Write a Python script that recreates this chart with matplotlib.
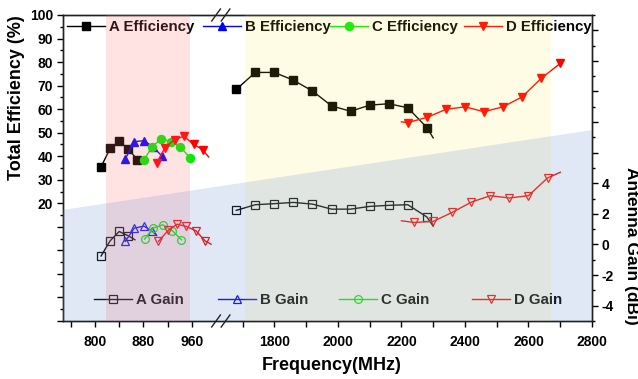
import numpy as np
import matplotlib
matplotlib.use('Agg')
import matplotlib.pyplot as plt
import matplotlib.patches as mpatches
from matplotlib.lines import Line2D
from matplotlib.legend import Legend
from matplotlib.ticker import FixedLocator, FuncFormatter, MultipleLocator

plt.rcParams['font.family'] = ['Liberation Sans', 'DejaVu Sans']
plt.rcParams['font.weight'] = 'bold'

# ---------------- data ----------------
# Efficiency (%)
a_eff_lo_f = [810, 825, 840, 855, 870]
a_eff_lo = [35.5, 43.3, 46.4, 43.0, 38.6]
a_eff_hi_f = [1680, 1740, 1800, 1860, 1920, 1980, 2040, 2100, 2160, 2220, 2280, 2300]
a_eff_hi = [68.4, 75.6, 75.6, 72.3, 67.7, 61.4, 59.1, 61.7, 62.3, 60.6, 52.2, 47.8]
b_eff_f = [850, 865, 881, 896, 911]
b_eff = [38.8, 46.2, 46.6, 44.0, 40.0]
c_eff_f = [881, 894, 910, 926, 941, 957]
c_eff = [38.3, 44.0, 47.5, 46.1, 44.0, 39.4]
d_eff_lo_f = [902, 916, 932, 947, 963, 978, 988]
d_eff_lo = [37.1, 43.7, 47.1, 48.5, 45.1, 42.8, 39.7]
d_eff_hi_f = [2200, 2220, 2280, 2340, 2400, 2460, 2520, 2580, 2640, 2700]
d_eff_hi = [54.6, 54.3, 56.5, 59.9, 61.0, 58.9, 61.0, 65.2, 73.1, 79.4]

# Antenna gain (dBi)
a_gain_lo_f = [810, 825, 840, 855, 866]
a_gain_lo = [-0.75, 0.24, 0.85, 0.57, 0.31]
a_gain_hi_f = [1680, 1740, 1800, 1860, 1920, 1980, 2040, 2100, 2160, 2220, 2280, 2300]
a_gain_hi = [2.23, 2.60, 2.67, 2.75, 2.64, 2.31, 2.31, 2.49, 2.56, 2.60, 1.80, 1.20]
b_gain_f = [850, 865, 881, 895, 902]
b_gain = [0.20, 1.07, 1.20, 0.85, 0.60]
c_gain_f = [882, 896, 912, 928, 943]
c_gain = [0.35, 1.07, 1.29, 0.90, 0.31]
d_gain_lo_f = [905, 921, 936, 951, 967, 982, 992]
d_gain_lo = [0.20, 0.92, 1.33, 1.18, 0.90, 0.24, 0.02]
d_gain_hi_f = [2200, 2240, 2300, 2360, 2420, 2480, 2540, 2600, 2660, 2700]
d_gain_hi = [1.55, 1.44, 1.51, 2.10, 2.77, 3.19, 3.04, 3.19, 4.35, 4.72]

x_major = [800, 880, 960, 1800, 2000, 2200, 2400, 2600, 2800]
x_minor = [760, 840, 920, 1700, 1900, 2100, 2300, 2500, 2700]

# ---------------- broken x scale ----------------
B1, B2 = 1008.0, 1631.0
K1, K2 = 0.604, 0.3175


def fwd(x):
    x = np.asarray(x, float)
    return np.where(x <= B1, (x - B1) * K1, np.where(x >= B2, (x - B2) * K2, 0.0))


def inv(u):
    u = np.asarray(u, float)
    return np.where(u < 0, B1 + u / K1, B2 + u / K2)


W, H = 638, 379
fig = plt.figure(figsize=(W / 100, H / 100), dpi=100)
L, R, T, Bt = 63, 592, 15, 321
ax = fig.add_axes([L / W, 1 - Bt / H, (R - L) / W, (Bt - T) / H])
ax.set_xscale('function', functions=(fwd, inv))
XMIN, XMAX = 747, 2800
ax.set_xlim(XMIN, XMAX)
ax.set_ylim(-30, 100)
ax2 = ax.twinx()
ax2.set_ylim(-5, 15)

# ---------------- efficiency ----------------
ms = 5.2
ax.plot(a_eff_lo_f, a_eff_lo, '-s', color='black', ms=ms, lw=1.0)
ax.plot(a_eff_hi_f, a_eff_hi, '-s', color='black', ms=ms, lw=1.0, markevery=list(range(11)))
ax.plot(b_eff_f, b_eff, '-^', color='#0000FF', ms=6.3, lw=1.0)
ax.plot(c_eff_f, c_eff, '-o', color='#00EE00', ms=5.8, lw=1.0)
ax.plot(d_eff_lo_f, d_eff_lo, '-v', color='#FF0000', ms=6.3, lw=1.0, markevery=list(range(6)))
ax.plot(d_eff_hi_f, d_eff_hi, '-v', color='#FF0000', ms=6.3, lw=1.0, markevery=list(range(1, 10)))

# ---------------- gain ----------------
gkw = dict(mfc='none', mew=0.9, lw=1.0)
ax2.plot(a_gain_lo_f, a_gain_lo, '-s', color='black', ms=5.2, markevery=[0, 1, 2, 3], **gkw)
ax2.plot(a_gain_hi_f, a_gain_hi, '-s', color='black', ms=5.2, markevery=list(range(11)), **gkw)
ax2.plot(b_gain_f, b_gain, '-^', color='#0000FF', ms=6.0, markevery=[0, 1, 2, 3], **gkw)
ax2.plot(c_gain_f, c_gain, '-o', color='#00EE00', ms=5.6, **gkw)
ax2.plot(d_gain_lo_f, d_gain_lo, '-v', color='#FF0000', ms=6.0, markevery=list(range(6)), **gkw)
ax2.plot(d_gain_hi_f, d_gain_hi, '-v', color='#FF0000', ms=6.0, markevery=list(range(1, 9)), **gkw)

# ---------------- ticks ----------------
ax.xaxis.set_major_locator(FixedLocator(x_major))
ax.xaxis.set_minor_locator(FixedLocator(x_minor))
ax.xaxis.set_major_formatter(FuncFormatter(lambda v, p: f'{int(round(v))}'))
ax.yaxis.set_major_locator(MultipleLocator(10))
ax.yaxis.set_minor_locator(MultipleLocator(5))
ax.yaxis.set_major_formatter(FuncFormatter(lambda v, p: f'{int(round(v))}' if v >= 19.5 else ''))
ax2.yaxis.set_major_locator(MultipleLocator(2))
ax2.yaxis.set_minor_locator(MultipleLocator(1))
ax2.yaxis.set_major_formatter(FuncFormatter(lambda v, p: f'{int(round(v))}' if -4.5 <= v <= 4.5 else ''))

ax.tick_params(axis='x', which='both', direction='out', top=False, labelsize=10, pad=6, width=1)
ax.tick_params(axis='x', which='major', length=4)
ax.tick_params(axis='x', which='minor', length=4)
ax.tick_params(axis='y', which='major', direction='out', length=4, labelsize=10, pad=3, width=1)
ax.tick_params(axis='y', which='minor', direction='out', length=2.5, width=1)
ax2.tick_params(axis='y', which='major', direction='out', length=4, labelsize=10, pad=3, width=1)
ax2.tick_params(axis='y', which='minor', direction='out', length=2.5, width=1)
for a in (ax, ax2):
    for s in a.spines.values():
        s.set_linewidth(1.0)
        s.set_color('#222222')

ax.set_xlabel('Frequency(MHz)', fontsize=13, fontweight='bold', va='center')
ax.xaxis.set_label_coords(0.508, -(366 - Bt) / (Bt - T))
ax.set_ylabel('Total Efficiency (%)', fontsize=13, fontweight='bold', va='center', ha='center')
ax.yaxis.set_label_coords((17 - L) / (R - L), (Bt - 98) / (Bt - T))
ax2.set_ylabel('Antenna Gain (dBi)', fontsize=12.5, fontweight='bold', rotation=270,
               va='center', ha='center')
ax2.yaxis.set_label_coords((631 - L) / (R - L), (Bt - 246) / (Bt - T))

# ---------------- legends ----------------
lprop = {'weight': 'bold', 'size': 10.8}


def add_leg(axis, handle, label, px, py):
    lg = Legend(axis, [handle], [label], loc='center left',
                bbox_to_anchor=((px - L) / (R - L), (Bt - py) / (Bt - T)),
                frameon=False, borderpad=0, borderaxespad=0, handlelength=2.5,
                handletextpad=0.3, prop=lprop, numpoints=1)
    axis.add_artist(lg)


eff_h = [Line2D([], [], color='black', marker='s', ms=ms, lw=1.0),
         Line2D([], [], color='#0000FF', marker='^', ms=6.3, lw=1.0),
         Line2D([], [], color='#00EE00', marker='o', ms=5.8, lw=1.0),
         Line2D([], [], color='#FF0000', marker='v', ms=6.3, lw=1.0)]
eff_l = ['A Efficiency', 'B Efficiency', 'C Efficiency', 'D Efficiency']
for h, l, px in zip(eff_h, eff_l, [67, 203, 330, 464]):
    add_leg(ax, h, l, px, 27)

gain_h = [Line2D([], [], color='black', marker='s', ms=5.2, mfc='none', mew=0.9, lw=1.0),
          Line2D([], [], color='#0000FF', marker='^', ms=6.0, mfc='none', mew=0.9, lw=1.0),
          Line2D([], [], color='#00EE00', marker='o', ms=5.6, mfc='none', mew=0.9, lw=1.0),
          Line2D([], [], color='#FF0000', marker='v', ms=6.0, mfc='none', mew=0.9, lw=1.0)]
gain_l = ['A Gain', 'B Gain', 'C Gain', 'D Gain']
for h, l, px in zip(gain_h, gain_l, [94, 218, 339, 472]):
    add_leg(ax2, h, l, px, 300)

# ---------------- shaded overlays (on top) ----------------
ax2.axvspan(818, 958, color=(1.0, 0.45, 0.45), alpha=0.2, lw=0, zorder=10)
ax2.axvspan(1707, 2670, color=(1.0, 0.92, 0.2), alpha=0.12, lw=0, zorder=10)
ax2.add_patch(mpatches.Polygon([(0, 0.363), (1, 0.624), (1, 0), (0, 0)], closed=True,
                               transform=ax2.transAxes, color=(105/255, 140/255, 205/255),
                               alpha=0.2, lw=0, zorder=11))

# ---------------- break marks ----------------
u0, u1 = float(fwd(XMIN)), float(fwd(XMAX))
xb = L + (R - L) * (0 - u0) / (u1 - u0)
for yspine in (T, Bt):
    for dx in (-9.0, 0.5):
        xs = [(xb + dx) / W, (xb + dx + 8.7) / W]
        ys = [1 - (yspine + 6) / H, 1 - (yspine - 6) / H]
        fig.add_artist(Line2D(xs, ys, color='#222222', lw=1.0, transform=fig.transFigure))

fig.savefig('out.png', dpi=100)
